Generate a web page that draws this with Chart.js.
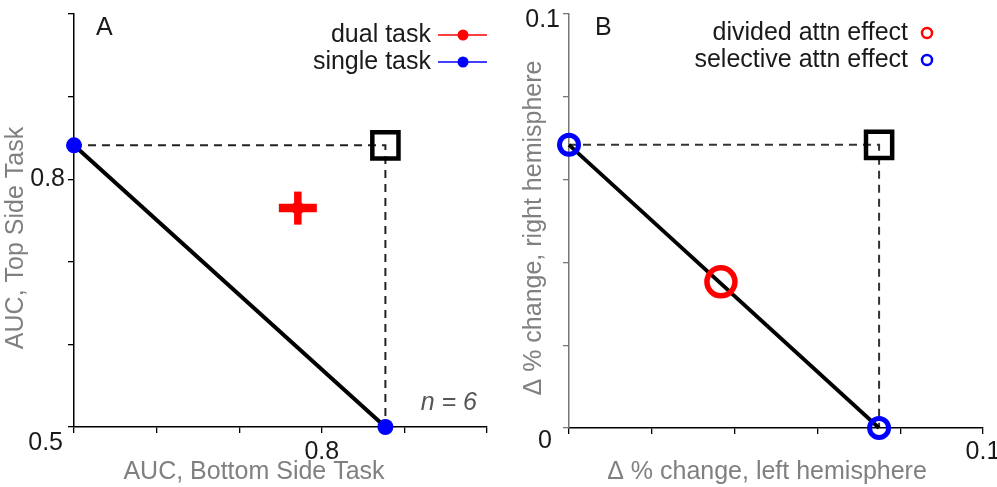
<!DOCTYPE html>
<html>
<head>
<meta charset="utf-8">
<script src="https://cdn.jsdelivr.net/npm/chart.js@4/dist/chart.umd.min.js"></script>
<style>
  html, body { margin: 0; padding: 0; background: #fff; }
  #wrap { position: relative; width: 997px; height: 487px; overflow: hidden; }
  canvas { position: absolute; top: 0; }
  #chartA { left: 0; }
  #chartB { left: 500px; }
</style>
</head>
<body>
<div id="wrap">
  <canvas id="chartA" width="500" height="487"></canvas>
  <canvas id="chartB" width="497" height="487"></canvas>
</div>
<script>
// ---- panel A: AUC ----
const aTicks = [0.5, 0.6, 0.7, 0.8, 0.9, 1.0];
const aLabeled = [0.8];              // ticks that get a number (0.5 sits at the corner)
const aSingleX = [0.5, 0.877];       // single task, bottom / top side
const aSingleY = [0.841, 0.5];
const aSumX = [0.877];               // both single-task results combined
const aSumY = [0.841];
const aDualX = [0.771];
const aDualY = [0.765];
const aDualXErr = [0.023];
const aDualYErr = [0.02];

// ---- panel B: % change ----
const bTicks = [0, 0.02, 0.04, 0.06, 0.08, 0.1];
const bLabeled = [0.1];
const bSelX = [0, 0.0749];           // selective attn effect
const bSelY = [0.0684, 0];
const bSumX = [0.0749];
const bSumY = [0.0684];
const bDivX = [0.0367];              // divided attn effect
const bDivY = [0.0353];

const FONTE = '"Liberation Sans", Arial, sans-serif';
const CINZA = '#808080';
const ESCURO = '#1a1a1a';
const VERMELHO = '#ff0000';
const AZUL = '#0000ff';

function pts(xs, ys) {
  return xs.map((x, i) => ({ x: x, y: ys[i] }));
}

// texts, tick numbers and legend, drawn on top of the chart
const textos = {
  id: 'textos',
  afterDraw(chart, args, o) {
    const ctx = chart.ctx;
    const sx = chart.scales.x, sy = chart.scales.y;
    ctx.save();
    ctx.font = '25px ' + FONTE;
    ctx.textBaseline = 'middle';
    ctx.fillStyle = ESCURO;

    // tick numbers
    ctx.textAlign = 'center';
    o.xLabels.forEach(v => ctx.fillText(String(v), sx.getPixelForValue(v), 452));
    ctx.textAlign = 'right';
    o.yLabels.forEach(v => ctx.fillText(String(v), sy.left + o.yLabelRight, sy.getPixelForValue(v) + o.yLabelShift));
    ctx.fillText(o.origem, o.origemPos[0], o.origemPos[1]);

    // panel letter
    ctx.textAlign = 'left';
    ctx.fillText(o.letra, o.letraPos[0], o.letraPos[1]);

    // legend
    o.legenda.forEach(item => {
      ctx.fillStyle = ESCURO;
      ctx.textAlign = 'right';
      ctx.fillText(item.texto, o.legX, item.y);
      ctx.strokeStyle = item.cor;
      if (item.tipo === 'linha') {
        ctx.lineWidth = 1.5;
        ctx.beginPath();
        ctx.moveTo(o.legX + 7, item.y);
        ctx.lineTo(o.legX + 56, item.y);
        ctx.stroke();
        ctx.fillStyle = item.cor;
        ctx.beginPath();
        ctx.arc(o.legX + 32, item.y, 5.5, 0, Math.PI * 2);
        ctx.fill();
      } else {
        ctx.lineWidth = 2.5;
        ctx.beginPath();
        ctx.arc(o.legX + 19, item.y, 5, 0, Math.PI * 2);
        ctx.stroke();
      }
    });

    // axis titles
    ctx.fillStyle = CINZA;
    ctx.textAlign = 'center';
    ctx.fillText(o.tituloX, o.tituloXPos[0], o.tituloXPos[1]);
    ctx.save();
    ctx.translate(o.tituloYPos[0], o.tituloYPos[1]);
    ctx.rotate(-Math.PI / 2);
    ctx.fillText(o.tituloY, 0, 0);
    ctx.restore();

    if (o.nota) {
      ctx.fillStyle = '#555';
      ctx.font = 'italic 25px ' + FONTE;
      ctx.textAlign = 'right';
      ctx.fillText(o.nota, o.notaPos[0], o.notaPos[1]);
    }
    ctx.restore();
  }
};

function eixo(ticks, largura, altura, corBorda, horizontal) {
  const cfg = {
    type: 'linear',
    min: ticks[0],
    max: ticks[ticks.length - 1],
    afterBuildTicks: s => { s.ticks = ticks.map(v => ({ value: v })); },
    ticks: { display: false },
    grid: { drawOnChartArea: false, drawTicks: true, tickLength: 6, color: corBorda, lineWidth: 1.3 },
    border: { display: true, color: corBorda, width: 1.5 }
  };
  if (horizontal) cfg.afterFit = s => { s.height = altura; };
  else cfg.afterFit = s => { s.width = largura; };
  return cfg;
}

function opcoes(ticks, padRight, yWidth, xHeight, corY, textoOpts) {
  return {
    responsive: false,
    animation: false,
    events: [],
    layout: { autoPadding: false, padding: { top: 14, right: padRight, left: 0, bottom: 0 } },
    scales: {
      x: eixo(ticks, 0, xHeight, '#000', true),
      y: eixo(ticks, yWidth, 0, corY, false)
    },
    plugins: {
      legend: { display: false },
      tooltip: { enabled: false },
      textos: textoOpts
    }
  };
}

// ---------- A ----------
const dualBarraX = aDualX.flatMap((x, i) => [{ x: x - aDualXErr[i], y: aDualY[i] }, { x: x + aDualXErr[i], y: aDualY[i] }]);
const dualBarraY = aDualX.flatMap((x, i) => [{ x: x, y: aDualY[i] - aDualYErr[i] }, { x: x, y: aDualY[i] + aDualYErr[i] }]);

new Chart(document.getElementById('chartA'), {
  type: 'scatter',
  data: {
    datasets: [
      { data: pts(aSingleX, aSingleY), pointRadius: 8, backgroundColor: AZUL, borderWidth: 0, clip: false, order: 0 },
      { data: pts(aDualX, aDualY), pointRadius: 6.5, backgroundColor: VERMELHO, borderWidth: 0, clip: false, order: 0 },
      { data: pts(aSumX, aSumY), pointStyle: 'rect', pointRadius: 18.5, borderColor: '#000', borderWidth: 4.5,
        backgroundColor: 'rgba(0,0,0,0)', clip: false, order: 0 },
      { data: dualBarraX, showLine: true, borderColor: VERMELHO, borderWidth: 8.5, pointRadius: 0, clip: false, order: 1 },
      { data: dualBarraY, showLine: true, borderColor: VERMELHO, borderWidth: 7.5, pointRadius: 0, clip: false, order: 1 },
      { data: pts(aSingleX, aSingleY), showLine: true, borderColor: '#000', borderWidth: 4, pointRadius: 0, clip: false, order: 3 },
      { data: [{ x: aSingleX[0], y: aSingleY[0] }, { x: aSumX[0], y: aSumY[0] }, { x: aSingleX[1], y: aSingleY[1] }],
        showLine: true, borderColor: '#222', borderWidth: 2, borderDash: [8, 6], pointRadius: 0, clip: false, order: 4 }
    ]
  },
  options: opcoes(aTicks, 13, 74, 60, '#000', {
    xLabels: aLabeled, yLabels: aLabeled, yLabelRight: 65, yLabelShift: 0,
    origem: '0.5', origemPos: [63, 443],
    letra: 'A', letraPos: [96, 28],
    legX: 431,
    legenda: [
      { texto: 'dual task', y: 35, cor: VERMELHO, tipo: 'linha' },
      { texto: 'single task', y: 62, cor: AZUL, tipo: 'linha' }
    ],
    tituloX: 'AUC, Bottom Side Task', tituloXPos: [254, 472],
    tituloY: 'AUC, Top Side Task', tituloYPos: [16, 238],
    nota: 'n = 6', notaPos: [477, 403]
  }),
  plugins: [textos]
});

// ---------- B ----------
new Chart(document.getElementById('chartB'), {
  type: 'scatter',
  data: {
    datasets: [
      { data: pts(bSelX, bSelY), pointRadius: 9.5, borderColor: AZUL, borderWidth: 5, backgroundColor: 'rgba(0,0,0,0)', clip: false, order: 0 },
      { data: pts(bDivX, bDivY), pointRadius: 14, borderColor: VERMELHO, borderWidth: 5.5, backgroundColor: 'rgba(0,0,0,0)', clip: false, order: 0 },
      { data: pts(bSumX, bSumY), pointStyle: 'rect', pointRadius: 18.5, borderColor: '#000', borderWidth: 4.5,
        backgroundColor: 'rgba(0,0,0,0)', clip: false, order: 0 },
      { data: pts(bSelX, bSelY), showLine: true, borderColor: '#000', borderWidth: 3.8, pointRadius: 0, clip: false, order: 3 },
      { data: [{ x: bSelX[0], y: bSelY[0] }, { x: bSumX[0], y: bSumY[0] }, { x: bSelX[1], y: bSelY[1] }],
        showLine: true, borderColor: '#333', borderWidth: 2, borderDash: [8, 6], pointRadius: 0, clip: false, order: 4 }
    ]
  },
  options: opcoes(bTicks, 14, 69, 59, '#777', {
    xLabels: bLabeled, yLabels: bLabeled, yLabelRight: 60, yLabelShift: 6,
    origem: '0', origemPos: [52, 441],
    letra: 'B', letraPos: [95, 28],
    legX: 408,
    legenda: [
      { texto: 'divided attn effect', y: 33, cor: VERMELHO, tipo: 'anel' },
      { texto: 'selective attn effect', y: 60, cor: AZUL, tipo: 'anel' }
    ],
    tituloX: '\u0394 % change, left hemisphere', tituloXPos: [267, 472],
    tituloY: '\u0394 % change, right hemisphere', tituloYPos: [34, 228]
  }),
  plugins: [textos]
});
</script>
</body>
</html>
